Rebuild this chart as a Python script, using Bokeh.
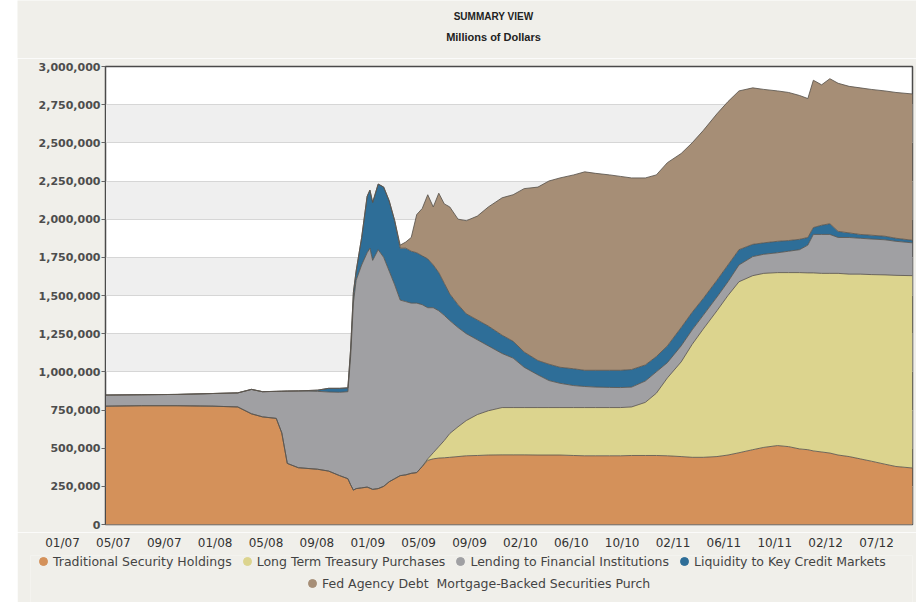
import pandas as pd
from bokeh.plotting import figure
from bokeh.models import (ColumnDataSource, Range1d, FixedTicker, NumeralTickFormatter,
                          Legend, LegendItem, BoxAnnotation)
from bokeh.core.properties import value
from bokeh.embed import file_html
from bokeh.resources import INLINE

# ---------------- data (millions of dollars) ----------------
dates = [
    "2007-01-03", "2007-04-04", "2007-07-04", "2007-10-03", "2007-12-05",
    "2008-01-09", "2008-02-06", "2008-03-12", "2008-03-26", "2008-04-09",
    "2008-05-07", "2008-06-25", "2008-07-23", "2008-08-20", "2008-09-10",
    "2008-09-17", "2008-09-24", "2008-10-01", "2008-10-15", "2008-10-29",
    "2008-11-05", "2008-11-12", "2008-11-26", "2008-12-10", "2008-12-24",
    "2009-01-07", "2009-01-21", "2009-02-04", "2009-02-18", "2009-03-04",
    "2009-03-18", "2009-04-01", "2009-04-15", "2009-04-29", "2009-05-13",
    "2009-05-27", "2009-06-17", "2009-07-08", "2009-08-05", "2009-09-02",
    "2009-10-07", "2009-11-04", "2009-12-02", "2010-01-06", "2010-02-03",
    "2010-03-03", "2010-04-07", "2010-05-05", "2010-06-02", "2010-07-07",
    "2010-08-04", "2010-09-01", "2010-10-06", "2010-11-03", "2010-12-01",
    "2011-01-05", "2011-02-02", "2011-03-02", "2011-04-06", "2011-05-04",
    "2011-06-01", "2011-07-06", "2011-08-03", "2011-09-07", "2011-10-05",
    "2011-11-02", "2011-11-23", "2011-12-07", "2011-12-28", "2012-01-18",
    "2012-02-08", "2012-03-07", "2012-04-04", "2012-05-02", "2012-06-06",
    "2012-07-04", "2012-08-15",
]

traditional = [
    775000, 778000, 778000, 775000, 770000,
    725000, 705000, 695000, 600000, 400000,
    372000, 362000, 350000, 320000, 300000,
    260000, 225000, 235000, 240000, 245000,
    238000, 230000, 235000, 250000, 280000,
    300000, 320000, 325000, 335000, 340000,
    380000, 420000, 430000, 435000, 437000,
    440000, 445000, 450000, 452000, 455000,
    456000, 456000, 456000, 455000, 455000,
    455000, 452000, 450000, 450000, 450000,
    450000, 452000, 452000, 452000, 450000,
    445000, 440000, 440000, 445000, 455000,
    470000, 490000, 505000, 517000, 510000,
    495000, 490000, 482000, 475000, 468000,
    455000, 445000, 430000, 415000, 395000,
    380000, 370000,
]

long_term_treasury = [
    0, 0, 0, 0, 0,
    0, 0, 0, 0, 0,
    0, 0, 0, 0, 0,
    0, 0, 0, 0, 0,
    0, 0, 0, 0, 0,
    0, 0, 0, 0, 0,
    0, 10000, 40000, 75000, 113000,
    156000, 195000, 231000, 268000, 290000,
    310000, 310000, 310000, 311000, 311000,
    311000, 314000, 316000, 316000, 316000,
    316000, 318000, 348000, 408000, 510000,
    620000, 740000, 840000, 955000, 1045000,
    1120000, 1140000, 1140000, 1133000, 1140000,
    1155000, 1158000, 1166000, 1170000, 1177000,
    1190000, 1195000, 1210000, 1222000, 1240000,
    1252000, 1260000,
]

lending = [
    73000, 72000, 74000, 83000, 92000,
    160000, 165000, 177000, 273000, 474000,
    503000, 510000, 518000, 546000, 570000,
    840000, 1225000, 1365000, 1460000, 1535000,
    1572000, 1500000, 1565000, 1500000, 1380000,
    1270000, 1150000, 1135000, 1115000, 1110000,
    1060000, 990000, 950000, 890000, 820000,
    740000, 650000, 569000, 490000, 425000,
    354000, 324000, 264000, 214000, 177000,
    159000, 144000, 138000, 134000, 132000,
    131000, 130000, 140000, 140000, 100000,
    105000, 95000, 90000, 90000, 90000,
    110000, 125000, 125000, 130000, 140000,
    150000, 182000, 252000, 255000, 255000,
    235000, 240000, 235000, 233000, 230000,
    223000, 215000,
]

liquidity = [
    0, 0, 0, 0, 0,
    0, 0, 0, 0, 0,
    0, 8000, 24000, 26000, 25000,
    50000, 70000, 60000, 180000, 370000,
    380000, 380000, 430000, 460000, 460000,
    420000, 340000, 350000, 340000, 330000,
    320000, 320000, 280000, 250000, 210000,
    174000, 150000, 130000, 130000, 130000,
    120000, 110000, 100000, 94000, 107000,
    105000, 110000, 106000, 110000, 112000,
    113000, 115000, 105000, 100000, 110000,
    120000, 115000, 110000, 110000, 110000,
    100000, 80000, 75000, 75000, 70000,
    68000, 50000, 45000, 60000, 70000,
    40000, 30000, 25000, 25000, 23000,
    20000, 17000,
]

agency_mbs = [
    0, 0, 0, 0, 0,
    0, 0, 0, 0, 0,
    0, 0, 0, 0, 0,
    0, 0, 0, 0, 0,
    0, 0, 0, 0, 0,
    0, 20000, 40000, 90000, 250000,
    310000, 420000, 380000, 520000, 520000,
    570000, 560000, 610000, 680000, 780000,
    900000, 960000, 1070000, 1136000, 1200000,
    1240000, 1270000, 1300000, 1290000, 1280000,
    1270000, 1255000, 1225000, 1190000, 1200000,
    1140000, 1110000, 1100000, 1090000, 1070000,
    1040000, 1025000, 1005000, 985000, 970000,
    942000, 910000, 965000, 920000, 950000,
    970000, 960000, 960000, 955000, 952000,
    955000, 958000,
]

series_keys = ["traditional", "long_term_treasury", "lending", "liquidity", "agency_mbs"]
series_labels = [
    "Traditional Security Holdings",
    "Long Term Treasury Purchases",
    "Lending to Financial Institutions",
    "Liquidity to Key Credit Markets",
    "Fed Agency Debt  Mortgage-Backed Securities Purch",
]
colors = ["#d4915a", "#dcd48e", "#a0a0a3", "#2e6e98", "#a68e76"]

title_text = "SUMMARY VIEW"
subtitle_text = "Millions of Dollars"

y_ticks = [0, 250000, 500000, 750000, 1000000, 1250000, 1500000, 1750000,
           2000000, 2250000, 2500000, 2750000, 3000000]
shaded_band_bottoms = [0, 500000, 1000000, 1500000, 2000000, 2500000]
x_tick_labels = ["01/07", "05/07", "09/07", "01/08", "05/08", "09/08", "01/09",
                 "05/09", "09/09", "02/10", "06/10", "10/10", "02/11", "06/11",
                 "10/11", "02/12", "07/12"]

source = ColumnDataSource(dict(
    date=pd.to_datetime(dates),
    traditional=traditional,
    long_term_treasury=long_term_treasury,
    lending=lending,
    liquidity=liquidity,
    agency_mbs=agency_mbs,
))

# ---------------- layout constants ----------------
PAGE_LEFT = 17                 # white strip at the left of the page
W = 899
H_TOP, H_MAIN, H_BOT = 58, 474, 70
BG = "#f0efea"
MARGIN = (0, 0, 0, PAGE_LEFT)
x_start = pd.Timestamp("2007-01-03")
x_end = pd.Timestamp("2012-08-15")
Y_MAX = 3000000
BAND = 250000

# ---------------- title strip ----------------
pt = figure(width=W, height=H_TOP, x_range=Range1d(0, W), y_range=Range1d(H_TOP, 0),
            x_axis_location=None, y_axis_location=None, output_backend="svg",
            toolbar_location=None, min_border=0, margin=MARGIN)
pt.border_fill_color = BG
pt.background_fill_color = BG
pt.outline_line_color = None
pt.grid.visible = False
pt.text(x=[476], y=[16], text=[title_text], text_align="center", text_baseline="middle",
        text_font=value("Liberation Sans"), text_font_style="bold",
        text_font_size="10px", text_color="#222222")
pt.text(x=[476], y=[36], text=[subtitle_text], text_align="center", text_baseline="middle",
        text_font=value("Liberation Sans"), text_font_style="bold",
        text_font_size="11px", text_color="#222222")

# ---------------- main chart ----------------
p = figure(width=W, height=H_MAIN, x_axis_type="datetime",
           x_range=Range1d(x_start, x_end), y_range=Range1d(0, Y_MAX),
           output_backend="svg", toolbar_location=None, margin=MARGIN,
           min_border_left=88, min_border_right=4,
           min_border_top=8, min_border_bottom=8)

p.border_fill_color = BG
p.background_fill_color = "white"
p.outline_line_color = "#4a4a4a"
p.outline_line_width = 1.5

p.xaxis.visible = False
p.xgrid.visible = False

p.yaxis.ticker = FixedTicker(ticks=y_ticks)
p.yaxis.formatter = NumeralTickFormatter(format="0,0")
p.yaxis.major_label_text_font = "DejaVu Sans"
p.yaxis.major_label_text_font_style = "bold"
p.yaxis.major_label_text_font_size = "11px"
p.yaxis.major_label_text_color = "#4d4d4d"
p.yaxis.major_tick_in = 0
p.yaxis.major_tick_out = 4
p.yaxis.major_tick_line_color = "#666666"
p.yaxis.minor_tick_line_color = None
p.yaxis.axis_line_color = "#4a4a4a"
p.yaxis.major_label_standoff = 1

p.ygrid.ticker = FixedTicker(ticks=y_ticks)
p.ygrid.grid_line_color = "#d6d6d6"

bands = [BoxAnnotation(bottom=b, top=b + BAND, fill_color="#efefef", fill_alpha=1.0,
                       line_color=None, level="underlay") for b in shaded_band_bottoms]
p.center = bands + list(p.center)

p.varea_stack(stackers=series_keys, x="date", color=colors, source=source)
p.vline_stack(stackers=series_keys, x="date", color="#5b554e", line_width=1,
              line_alpha=0.85, source=source)

# ---------------- bottom strip: x labels + legend ----------------
LABEL0_PX, LABEL_STEP = 62, 50.875        # window px of first label, spacing
FRAME_L, FRAME_R = 30, 912                 # window px of bottom frame
pb = figure(width=W, height=H_BOT, x_axis_location="above", y_axis_location=None,
            x_range=Range1d((FRAME_L - LABEL0_PX) / LABEL_STEP,
                            (FRAME_R - LABEL0_PX) / LABEL_STEP),
            y_range=Range1d(0, 1),
            output_backend="svg", toolbar_location=None, margin=MARGIN,
            min_border_left=FRAME_L - PAGE_LEFT, min_border_right=4,
            min_border_top=15, min_border_bottom=0)
pb.border_fill_color = BG
pb.background_fill_color = BG
pb.outline_line_color = None
pb.grid.visible = False

ax = pb.xaxis[0]
ax.ticker = FixedTicker(ticks=list(range(len(x_tick_labels))))
ax.major_label_overrides = {i: lab for i, lab in enumerate(x_tick_labels)}
ax.major_label_text_font = "DejaVu Sans"
ax.major_label_text_font_size = "12px"
ax.major_label_text_color = "#333333"
ax.major_tick_line_color = None
ax.minor_tick_line_color = None
ax.axis_line_color = None
ax.major_label_standoff = 0

# legend-only renderers (no visible data)
dummies = [pb.scatter(x=[float("nan")], y=[float("nan")], marker="circle", size=8, color=c)
           for c in colors]


def make_legend(idx, loc):
    return Legend(items=[LegendItem(label=series_labels[i], renderers=[dummies[i]]) for i in idx],
                  location=loc, orientation="horizontal", padding=0, margin=0, spacing=5,
                  glyph_width=20, glyph_height=22, label_height=22, label_standoff=0,
                  label_text_font="DejaVu Sans", label_text_font_size="12.5px",
                  label_text_color="#444444", background_fill_alpha=0,
                  border_line_color=None)


pb.add_layout(make_legend([0, 1, 2, 3], (3, 30)))
pb.add_layout(make_legend([4], (272, 8)))

html = file_html([pt, p, pb], INLINE, title="Summary View")
open("out.html", "w").write(html)
